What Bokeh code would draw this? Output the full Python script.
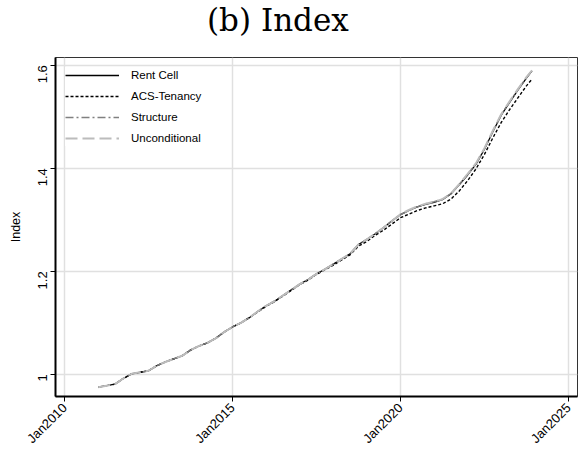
import math
from bokeh.plotting import figure
from bokeh.layouts import column
from bokeh.models import FixedTicker, CustomJSTickFormatter, Range1d, Legend, LegendItem, Div
from bokeh.embed import file_html
from bokeh.resources import INLINE

# ---- data (quarterly) ----
months = ["2011-01", "2011-04", "2011-07", "2011-10", "2012-01", "2012-04", "2012-07", "2012-10",
          "2013-01", "2013-04", "2013-07", "2013-10", "2014-01", "2014-04", "2014-07", "2014-10",
          "2015-01", "2015-04", "2015-07", "2015-10", "2016-01", "2016-04", "2016-07", "2016-10",
          "2017-01", "2017-04", "2017-07", "2017-10", "2018-01", "2018-04", "2018-07", "2018-10",
          "2019-01", "2019-04", "2019-07", "2019-10", "2020-01", "2020-04", "2020-07", "2020-10",
          "2021-01", "2021-04", "2021-07", "2021-10", "2022-01", "2022-04", "2022-07", "2022-10",
          "2023-01", "2023-04", "2023-07", "2023-10", "2023-12"]

rent_cell = [0.975, 0.978, 0.981, 0.992, 1.001, 1.004, 1.007, 1.017,
             1.024, 1.030, 1.036, 1.047, 1.055, 1.061, 1.070, 1.082,
             1.092, 1.100, 1.110, 1.122, 1.133, 1.142, 1.153, 1.164,
             1.175, 1.184, 1.195, 1.204, 1.214, 1.224, 1.234, 1.252,
             1.262, 1.273, 1.285, 1.298, 1.310, 1.318, 1.325, 1.330,
             1.334, 1.339, 1.350, 1.368, 1.387, 1.408, 1.437, 1.471,
             1.503, 1.528, 1.552, 1.575, 1.589]

acs_tenancy = [0.975, 0.978, 0.981, 0.992, 1.001, 1.004, 1.007, 1.017,
               1.024, 1.030, 1.036, 1.047, 1.055, 1.061, 1.070, 1.082,
               1.092, 1.100, 1.110, 1.121, 1.132, 1.141, 1.152, 1.163,
               1.174, 1.183, 1.194, 1.203, 1.212, 1.222, 1.232, 1.249,
               1.258, 1.270, 1.280, 1.292, 1.304, 1.311, 1.318, 1.323,
               1.327, 1.331, 1.340, 1.356, 1.376, 1.399, 1.427, 1.459,
               1.489, 1.514, 1.537, 1.560, 1.573]

structure = [0.975, 0.978, 0.981, 0.992, 1.001, 1.004, 1.007, 1.017,
             1.024, 1.030, 1.036, 1.047, 1.055, 1.061, 1.070, 1.082,
             1.092, 1.100, 1.110, 1.122, 1.133, 1.142, 1.153, 1.164,
             1.175, 1.184, 1.195, 1.204, 1.214, 1.224, 1.234, 1.252,
             1.262, 1.273, 1.285, 1.298, 1.310, 1.318, 1.325, 1.331,
             1.335, 1.340, 1.351, 1.369, 1.388, 1.409, 1.438, 1.472,
             1.504, 1.529, 1.553, 1.576, 1.590]

unconditional = [0.975, 0.978, 0.981, 0.992, 1.001, 1.004, 1.007, 1.017,
                 1.024, 1.030, 1.036, 1.047, 1.055, 1.061, 1.070, 1.082,
                 1.092, 1.100, 1.110, 1.122, 1.133, 1.142, 1.153, 1.164,
                 1.175, 1.184, 1.195, 1.204, 1.214, 1.224, 1.234, 1.252,
                 1.262, 1.273, 1.285, 1.298, 1.311, 1.319, 1.326, 1.331,
                 1.335, 1.340, 1.351, 1.369, 1.389, 1.410, 1.439, 1.473,
                 1.505, 1.530, 1.554, 1.577, 1.590]

x_ticks = [2010, 2015, 2020, 2025]
x_labels = ["Jan2010", "Jan2015", "Jan2020", "Jan2025"]
y_ticks = [1.0, 1.2, 1.4, 1.6]
title_text = "(b) Index"

xs = [int(m[:4]) + (int(m[5:7]) - 1) / 12.0 for m in months]

FONT = "Liberation Sans"
TITLE_H = 40

title_div = Div(
    text=('<div style="padding-left:207px; padding-top:5px; font-family:\'DejaVu Serif\'; '
          'font-size:31px; line-height:31px; color:black; white-space:nowrap;">'
          + title_text + '</div>'),
    width=587, height=TITLE_H, margin=0)

p = figure(width=587, height=455 - TITLE_H, output_backend="svg", toolbar_location=None,
           x_range=Range1d(2009.73, 2025.27), y_range=Range1d(0.957, 1.615),
           min_border_left=55, min_border_right=10, min_border_top=57 - TITLE_H,
           min_border_bottom=59, margin=0)

p.background_fill_color = "white"
p.border_fill_color = "white"
p.outline_line_color = "#333333"
p.outline_line_width = 1

# grids
p.xgrid.ticker = FixedTicker(ticks=x_ticks)
p.ygrid.ticker = FixedTicker(ticks=y_ticks)
for g in (p.xgrid, p.ygrid):
    g.grid_line_color = "#e0e0e0"
    g.grid_line_width = 1.5

# axes
p.xaxis.ticker = FixedTicker(ticks=x_ticks)
p.xaxis.major_label_overrides = {t: l for t, l in zip(x_ticks, x_labels)}
p.xaxis.major_label_orientation = math.pi / 4
p.yaxis.ticker = FixedTicker(ticks=y_ticks)
p.yaxis.formatter = CustomJSTickFormatter(code="return tick.toFixed(1).replace(/\\.0$/, '');")
p.yaxis.major_label_orientation = math.pi / 2
p.yaxis.axis_label = "Index"
p.yaxis.axis_label_text_font = FONT
p.yaxis.axis_label_text_font_size = "12.5px"
p.yaxis.axis_label_text_font_style = "normal"
p.yaxis.axis_label_text_color = "black"
p.yaxis.axis_label_standoff = 8
for ax in (p.xaxis, p.yaxis):
    ax.axis_line_color = "black"
    ax.axis_line_width = 2
    ax.major_tick_line_color = "black"
    ax.major_tick_line_width = 1
    ax.major_tick_out = 5
    ax.major_tick_in = 0
    ax.minor_tick_line_color = None
    ax.major_label_text_font = FONT
    ax.major_label_text_font_size = "13px"
    ax.major_label_text_color = "black"
p.xaxis.major_label_standoff = 4
p.yaxis.major_label_standoff = 8

r1 = p.line(xs, rent_cell, line_color="black", line_width=1.3)
r2 = p.line(xs, acs_tenancy, line_color="black", line_width=1.4, line_dash="3 2")
r3 = p.line(xs, structure, line_color="#808080", line_width=1.5, line_dash="8 3 2 3")
r4 = p.line(xs, unconditional, line_color="#bcbcbc", line_width=2, line_dash="12 5")

legend = Legend(items=[LegendItem(label="Rent Cell", renderers=[r1]),
                       LegendItem(label="ACS-Tenancy", renderers=[r2]),
                       LegendItem(label="Structure", renderers=[r3]),
                       LegendItem(label="Unconditional", renderers=[r4])],
                location="top_left")
legend.border_line_color = None
legend.background_fill_color = "white"
legend.background_fill_alpha = 1.0
legend.margin = 10
legend.padding = 10
legend.spacing = 5
legend.glyph_width = 54
legend.glyph_height = 16
legend.label_height = 16
legend.label_standoff = 12
legend.label_text_font = FONT
legend.label_text_font_size = "11.5px"
legend.label_text_color = "black"
p.add_layout(legend)

layout = column(title_div, p, spacing=0)
open("out.html", "w").write(file_html(layout, INLINE))
